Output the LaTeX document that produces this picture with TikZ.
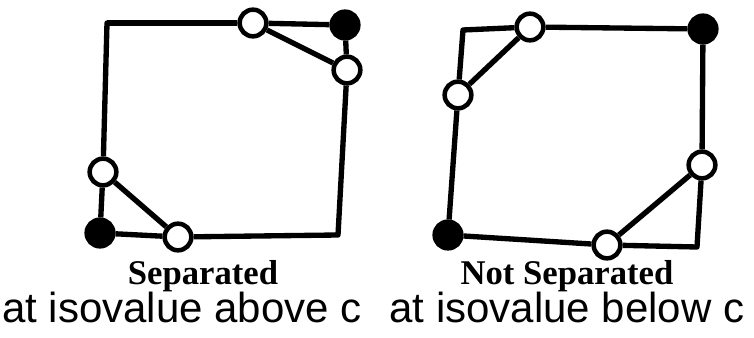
\documentclass[tikz,border=0pt]{standalone}
\usepackage{fontspec}
\usepackage{tikz}
\newfontfamily\caseserif{Liberation Serif}
\newfontfamily\casesans{Liberation Sans}

\begin{document}
\begin{tikzpicture}[x=0.75pt, y=-0.75pt,
		side/.style={line width=4pt, line join=round},
		vert/.style={circle, draw, line width=3.4pt, minimum size=20pt, inner sep=0pt},
		hot/.style={vert, fill=black},
		cut/.style={vert, fill=white},
		casename/.style={anchor=base, font=\caseserif\bfseries\fontsize{26}{30}\selectfont},
		isolabel/.style={anchor=base, font=\casesans\fontsize{31.5}{36}\selectfont}]
		\useasboundingbox (0,0) rectangle (754,338);
		% separated case
		\coordinate (sTL) at (107,23);
		\coordinate (sBR) at (338,235);
		\node[cut] (sTop) at (253,23) {};
		\node[hot] (sTR) at (345,25) {};
		\node[cut] (sRight) at (347,70) {};
		\node[cut] (sBottom) at (178,237) {};
		\node[hot] (sBL) at (100,233) {};
		\node[cut] (sLeft) at (103,172) {};
		\draw[side] (sTL) -- (sTop);
		\draw[side] (sTop) -- (sTR);
		\draw[side] (sTR) -- (sRight);
		\draw[side] (sRight) -- (sBR) -- (sBottom);
		\draw[side] (sBottom) -- (sBL);
		\draw[side] (sBL) -- (sLeft);
		\draw[side] (sLeft) -- (sTL) -- (sTop);
		\draw[side] (sTop) -- (sRight);
		\draw[side] (sLeft) -- (sBottom);
		% not separated case
		\coordinate (nTL) at (463,30);
		\coordinate (nBR) at (697,247);
		\node[cut] (nTop) at (530,27) {};
		\node[hot] (nTR) at (703,29) {};
		\node[cut] (nRight) at (702,165) {};
		\node[cut] (nBottom) at (607,245) {};
		\node[hot] (nBL) at (448,235) {};
		\node[cut] (nLeft) at (458,95) {};
		\draw[side] (nLeft) -- (nTL) -- (nTop);
		\draw[side] (nTop) -- (nTR);
		\draw[side] (nTR) -- (nRight);
		\draw[side] (nRight) -- (nBR) -- (nBottom);
		\draw[side] (nBottom) -- (nBL);
		\draw[side] (nBL) -- (nLeft);
		\draw[side] (nTop) -- (nLeft);
		\draw[side] (nRight) -- (nBottom);
		% labels
		\node[casename] (sName) at (203,285) {Separated};
		\node[casename] (nName) at (567,285) {Not Separated};
		\node[isolabel] (sIso) at (182,323) {at isovalue above c};
		\node[isolabel] (nIso) at (567,323) {at isovalue below c};
	\end{tikzpicture}
\end{document}
